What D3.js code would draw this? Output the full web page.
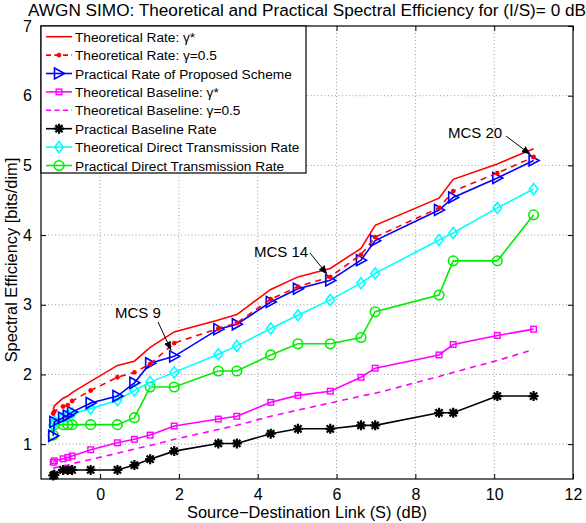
<!DOCTYPE html>
<html>
<head>
<meta charset="utf-8">
<script src="https://cdn.jsdelivr.net/npm/d3@7"></script>
<style>
  body { margin: 0; background: white; }
  text { font-family: "Liberation Sans", Arial, sans-serif; }
</style>
</head>
<body>
<script>

// source-destination link snr for mcs 0..20
var link_snr = [-1.19, -1.16, -0.94, -0.82, -0.71, -0.24, 0.44, 0.87, 1.27, 1.88, 3.00,
                3.47, 4.33, 5.02, 5.84, 6.62, 6.98, 8.60, 8.96, 10.08, 11.0];

// series values
var theo_rate_opt = [1.50, 1.55, 1.66, 1.69, 1.74, 1.90, 2.13, 2.19, 2.39, 2.61, 2.78,
                     2.86, 3.22, 3.40, 3.52, 3.81, 4.14, 4.53, 4.80, 5.02, 5.24];
var theo_rate_half = [1.44, 1.47, 1.54, 1.56, 1.62, 1.77, 1.96, 2.03, 2.15, 2.45, 2.66,
                      2.74, 3.08, 3.26, 3.40, 3.72, 3.97, 4.39, 4.63, 4.89, 5.12];
var practical_rate = [1.12, 1.32, 1.38, 1.41, 1.46, 1.59, 1.69, 1.88, 2.16, 2.26, 2.65,
                      2.72, 3.04, 3.23, 3.35, 3.64, 3.92, 4.36, 4.54, 4.82, 5.07];
var theo_base_opt = [0.74, 0.76, 0.79, 0.81, 0.83, 0.92, 1.02, 1.07, 1.13, 1.26, 1.36,
                     1.40, 1.60, 1.70, 1.76, 1.96, 2.09, 2.28, 2.43, 2.56, 2.65];
var theo_base_half = [0.65, 0.66, 0.69, 0.70, 0.72, 0.78, 0.87, 0.93, 0.98, 1.07, 1.21,
                      1.27, 1.40, 1.49, 1.59, 1.69, 1.73, 1.97, 2.03, 2.20, 2.36];
var practical_base = [0.55, 0.56, 0.63, 0.63, 0.63, 0.63, 0.63, 0.70, 0.785, 0.90, 1.01,
                      1.01, 1.15, 1.22, 1.22, 1.27, 1.27, 1.45, 1.45, 1.69, 1.69];
var theo_direct = [1.27, 1.33, 1.38, 1.42, 1.44, 1.51, 1.63, 1.77, 1.89, 2.03, 2.29,
                   2.41, 2.66, 2.85, 3.07, 3.31, 3.45, 3.93, 4.03, 4.39, 4.66];
var practical_direct = [1.13, 1.28, 1.28, 1.28, 1.28, 1.28, 1.28, 1.38, 1.82, 1.82, 2.05,
                        2.05, 2.28, 2.44, 2.44, 2.53, 2.90, 3.14, 3.63, 3.63, 4.29];

var x_ticks = [0, 2, 4, 6, 8, 10, 12];
var y_ticks = [1, 2, 3, 4, 5, 6, 7];

var legend_labels = ["Theoretical Rate: \u03b3*", "Theoretical Rate: \u03b3=0.5",
                     "Practical Rate of Proposed Scheme", "Theoretical Baseline: \u03b3*",
                     "Theoretical Baseline: \u03b3=0.5", "Practical Baseline Rate",
                     "Theoretical Direct Transmission Rate", "Practical Direct Transmission Rate"];

// annotated mcs indices
var mcs_notes = [9, 14, 20];

// window size
var w = 586;
var h = 523;

// plot box (note: "top" is taken by window.top, so prefix everything)
var box_left = 41, box_right = 573, box_top = 26, box_bottom = 479;

var xScale = d3.scaleLinear().domain([-1.5, 12]).range([box_left, box_right]);
var yScale = d3.scaleLinear().domain([0.5, 7]).range([box_bottom, box_top]);

var svg = d3.select("body").append("svg")
            .attr("width", w)
            .attr("height", h);

// arrow head for the mcs notes
svg.append("defs").append("marker")
    .attr("id", "arrow")
    .attr("viewBox", "0 0 10 10")
    .attr("refX", 10).attr("refY", 5)
    .attr("markerWidth", 9).attr("markerHeight", 9)
    .attr("markerUnits", "userSpaceOnUse")
    .attr("orient", "auto")
    .append("path").attr("d", "M0,1 L10,5 L0,9 Z").attr("fill", "black");

// grid lines (dotted)
var grid = svg.append("g");
x_ticks.filter(function(t){ return t < 12; }).forEach(function(t){
  grid.append("line")
      .attr("x1", xScale(t)).attr("x2", xScale(t))
      .attr("y1", box_top).attr("y2", box_bottom)
      .attr("stroke", "#9a9a9a").attr("stroke-width", 1)
      .attr("stroke-dasharray", "1,2.5");
});
y_ticks.filter(function(t){ return t < 7; }).forEach(function(t){
  grid.append("line")
      .attr("x1", box_left).attr("x2", box_right)
      .attr("y1", yScale(t)).attr("y2", yScale(t))
      .attr("stroke", "#9a9a9a").attr("stroke-width", 1)
      .attr("stroke-dasharray", "1,2.5");
});

// axes, ticks point inward like matlab
var xAxis = svg.append("g").attr("transform", "translate(0," + box_bottom + ")")
    .call(d3.axisBottom(xScale).tickValues(x_ticks).tickSize(-5).tickPadding(10).tickFormat(d3.format("d")));
var yAxis = svg.append("g").attr("transform", "translate(" + box_left + ",0)")
    .call(d3.axisLeft(yScale).tickValues(y_ticks).tickSize(-5).tickPadding(9).tickFormat(d3.format("d")));
var xTop = svg.append("g").attr("transform", "translate(0," + box_top + ")")
    .call(d3.axisTop(xScale).tickValues(x_ticks).tickSize(-5).tickFormat(""));
var yRight = svg.append("g").attr("transform", "translate(" + box_right + ",0)")
    .call(d3.axisRight(yScale).tickValues(y_ticks).tickSize(-5).tickFormat(""));

[xAxis, yAxis, xTop, yRight].forEach(function(a){
  a.select(".domain").remove();
  a.selectAll("line").attr("stroke", "black");
  a.selectAll("text").attr("fill", "black").style("font-size", "16px")
   .style("font-family", "'Liberation Sans', Arial, sans-serif");
});

// marker helpers
function drawMarker(g, type, cx, cy, color) {
  if (type == "tri") {
    g.append("path").attr("d", "M" + (cx - 4.5) + "," + (cy - 5.5) + " L" + (cx + 5.5) + "," + cy +
                      " L" + (cx - 4.5) + "," + (cy + 5.5) + " Z")
     .attr("fill", "none").attr("stroke", color).attr("stroke-width", 1.6);
  } else if (type == "circle") {
    g.append("circle").attr("cx", cx).attr("cy", cy).attr("r", 4.8)
     .attr("fill", "none").attr("stroke", color).attr("stroke-width", 1.6);
  } else if (type == "diamond") {
    g.append("path").attr("d", "M" + cx + "," + (cy - 5.5) + " L" + (cx + 4.3) + "," + cy +
                      " L" + cx + "," + (cy + 5.5) + " L" + (cx - 4.3) + "," + cy + " Z")
     .attr("fill", "none").attr("stroke", color).attr("stroke-width", 1.6);
  } else if (type == "square") {
    g.append("rect").attr("x", cx - 2.8).attr("y", cy - 2.8).attr("width", 5.6).attr("height", 5.6)
     .attr("fill", "none").attr("stroke", color).attr("stroke-width", 1.4);
  } else if (type == "star" || type == "smallstar") {
    var r = (type == "star") ? 5 : 2.4;
    var sw = (type == "star") ? 2.2 : 1.3;
    var d = "M" + (cx - r) + "," + cy + " L" + (cx + r) + "," + cy +
            " M" + cx + "," + (cy - r) + " L" + cx + "," + (cy + r) +
            " M" + (cx - r * 0.72) + "," + (cy - r * 0.72) + " L" + (cx + r * 0.72) + "," + (cy + r * 0.72) +
            " M" + (cx - r * 0.72) + "," + (cy + r * 0.72) + " L" + (cx + r * 0.72) + "," + (cy - r * 0.72);
    g.append("path").attr("d", d).attr("stroke", color).attr("stroke-width", sw).attr("fill", "none");
  }
}

// series definitions (values come from the arrays above)
var series = [
  { vals: theo_rate_opt, color: "#ff0000", dash: null, marker: null },
  { vals: theo_rate_half, color: "#ff0000", dash: "6,5", marker: "smallstar" },
  { vals: practical_rate, color: "#0000ff", dash: null, marker: "tri" },
  { vals: theo_base_opt, color: "#ff00ff", dash: null, marker: "square" },
  { vals: theo_base_half, color: "#ff00ff", dash: "6,5", marker: null },
  { vals: practical_base, color: "#000000", dash: null, marker: "star" },
  { vals: theo_direct, color: "#00ffff", dash: null, marker: "diamond" },
  { vals: practical_direct, color: "#00ee00", dash: null, marker: "circle" }
];

var line = d3.line()
    .x(function(d){ return xScale(d[0]); })
    .y(function(d){ return yScale(d[1]); });

// draw in reverse so the red lines sit on top
series.slice().reverse().forEach(function(s){
  var pts = link_snr.map(function(x, i){ return [x, s.vals[i]]; });
  var g = svg.append("g");
  g.append("path").datum(pts)
   .attr("d", line)
   .attr("fill", "none")
   .attr("stroke", s.color)
   .attr("stroke-width", 1.6)
   .attr("stroke-dasharray", s.dash);
  if (s.marker) {
    pts.forEach(function(p){ drawMarker(g, s.marker, xScale(p[0]), yScale(p[1]), s.color); });
  }
});

// plot box
svg.append("rect")
   .attr("x", box_left).attr("y", box_top)
   .attr("width", box_right - box_left).attr("height", box_bottom - box_top)
   .attr("fill", "none").attr("stroke", "black").attr("stroke-width", 1.2);

// mcs annotations - text position and arrow start
var note_pos = [
  { tx: 115, ty: 318, ax: 158, ay: 322 },
  { tx: 254, ty: 257, ax: 310, ay: 253 },
  { tx: 448, ty: 138, ax: 506, ay: 136 }
];
mcs_notes.forEach(function(m, i){
  var p = note_pos[i];
  svg.append("text").attr("x", p.tx).attr("y", p.ty)
     .attr("font-size", "15px").attr("fill", "black")
     .text("MCS " + m);
  svg.append("line")
     .attr("x1", p.ax).attr("y1", p.ay)
     .attr("x2", xScale(link_snr[m]) - 3).attr("y2", yScale(practical_rate[m]) - 6)
     .attr("stroke", "black").attr("stroke-width", 1)
     .attr("marker-end", "url(#arrow)");
});

// legend box
var leg_w = 265, row_h = 18.4, leg_y0 = 36.7;
var legend = svg.append("g");
legend.append("rect")
   .attr("x", box_left).attr("y", box_top)
   .attr("width", leg_w).attr("height", 147)
   .attr("fill", "white").attr("stroke", "black").attr("stroke-width", 1.2);

series.forEach(function(s, i){
  var yy = leg_y0 + i * row_h;
  legend.append("line")
     .attr("x1", 46).attr("x2", 72).attr("y1", yy).attr("y2", yy)
     .attr("stroke", s.color).attr("stroke-width", 1.6)
     .attr("stroke-dasharray", s.dash ? "5,3.5" : null);
  if (s.marker) drawMarker(legend, s.marker, 59, yy, s.color);
  legend.append("text")
     .attr("x", 75).attr("y", yy + 5)
     .attr("font-size", "13.7px").attr("fill", "black")
     .text(legend_labels[i]);
});

// title and axis labels
svg.append("text")
   .attr("x", (box_left + box_right) / 2).attr("y", 16)
   .attr("text-anchor", "middle").attr("font-size", "17.2px").attr("fill", "black")
   .text("AWGN SIMO: Theoretical and Practical Spectral Efficiency for (I/S)= 0 dB");

svg.append("text")
   .attr("x", (box_left + box_right) / 2).attr("y", 518)
   .attr("text-anchor", "middle").attr("font-size", "16.4px").attr("fill", "black")
   .text("Source\u2212Destination Link (S) (dB)");

svg.append("text")
   .attr("transform", "translate(17,260) rotate(-90)")
   .attr("text-anchor", "middle").attr("font-size", "16.4px").attr("fill", "black")
   .text("Spectral Efficiency [bits/dim]");

</script>
</body>
</html>
